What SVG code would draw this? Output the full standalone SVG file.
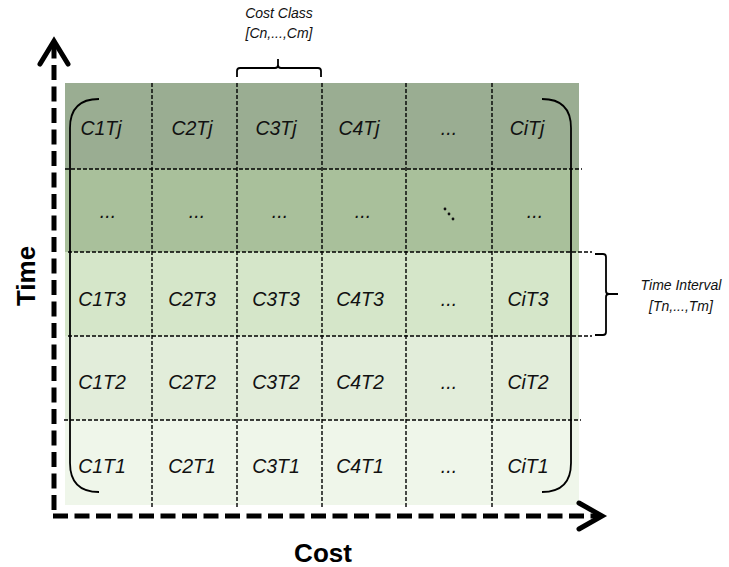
<svg xmlns="http://www.w3.org/2000/svg" width="729" height="567" viewBox="0 0 729 567">
<style>
.cell{font-family:"Liberation Sans",Arial,sans-serif;font-style:italic;font-size:19.5px;fill:#111;text-anchor:middle}
.note{font-family:"Liberation Sans",Arial,sans-serif;font-style:italic;font-size:14px;fill:#111;text-anchor:middle}
.axis-label{font-family:"Liberation Sans",Arial,sans-serif;font-weight:bold;font-size:26px;fill:#000;text-anchor:middle}
.grid{stroke:#000;stroke-width:1.4;stroke-dasharray:4 2;fill:none}
.axis{stroke:#000;stroke-width:5;stroke-dasharray:15 6.5;fill:none}
.head{stroke:#000;stroke-width:5;fill:none;stroke-linecap:round;stroke-linejoin:miter}
.bracket{stroke:#000;stroke-width:1.8;fill:none}
</style>
<g id="background">
<rect x="65" y="83" width="514" height="86" fill="#9aad92"/>
<rect x="65" y="169" width="514" height="83" fill="#a9c09b"/>
<rect x="65" y="252" width="514" height="84" fill="#d5e6c9"/>
<rect x="65" y="336" width="514" height="84" fill="#e2edda"/>
<rect x="65" y="420" width="514" height="85" fill="#eff6ea"/>
</g>
<g id="grid">
<line class="grid" x1="65" y1="169" x2="582" y2="169"/>
<line class="grid" x1="68" y1="252" x2="592" y2="252"/>
<line class="grid" x1="68" y1="336" x2="592" y2="336"/>
<line class="grid" x1="64" y1="420" x2="581" y2="420"/>
<line class="grid" x1="152" y1="83" x2="152" y2="508"/>
<line class="grid" x1="237" y1="83" x2="237" y2="508"/>
<line class="grid" x1="322" y1="83" x2="322" y2="508"/>
<line class="grid" x1="406" y1="83" x2="406" y2="508"/>
<line class="grid" x1="492" y1="83" x2="492" y2="508"/>
</g>
<g id="matrix-brackets">
<path class="bracket" d="M99,99 Q70,99 70,128 L70,463 Q70,492 99,492"/>
<path class="bracket" d="M542,99 Q571,99 571,128 L571,463 Q571,492 542,492"/>
</g>
<g id="cells">
<text class="cell" x="101" y="135">C1Tj</text>
<text class="cell" x="192" y="135">C2Tj</text>
<text class="cell" x="276" y="135">C3Tj</text>
<text class="cell" x="359" y="135">C4Tj</text>
<text class="cell" x="449" y="135">...</text>
<text class="cell" x="527" y="135">CiTj</text>
<text class="cell" x="108" y="218">...</text>
<text class="cell" x="197" y="218">...</text>
<text class="cell" x="280" y="218">...</text>
<text class="cell" x="363" y="218">...</text>
<g id="diag-dots" fill="#111"><circle cx="445" cy="209" r="1.4"/><circle cx="449" cy="214" r="1.4"/><circle cx="453" cy="219" r="1.4"/></g>
<text class="cell" x="535" y="218">...</text>
<text class="cell" x="102" y="306">C1T3</text>
<text class="cell" x="192" y="306">C2T3</text>
<text class="cell" x="276" y="306">C3T3</text>
<text class="cell" x="360" y="306">C4T3</text>
<text class="cell" x="449" y="306">...</text>
<text class="cell" x="528" y="306">CiT3</text>
<text class="cell" x="102" y="389">C1T2</text>
<text class="cell" x="192" y="389">C2T2</text>
<text class="cell" x="276" y="389">C3T2</text>
<text class="cell" x="360" y="389">C4T2</text>
<text class="cell" x="449" y="389">...</text>
<text class="cell" x="528" y="389">CiT2</text>
<text class="cell" x="102" y="473">C1T1</text>
<text class="cell" x="192" y="473">C2T1</text>
<text class="cell" x="276" y="473">C3T1</text>
<text class="cell" x="360" y="473">C4T1</text>
<text class="cell" x="449" y="473">...</text>
<text class="cell" x="528" y="473">CiT1</text>
</g>
<g id="cost-class">
<path class="bracket" d="M237,77 L237,71 Q237,68 240,68 L275,68 Q278,68 278,65 L278,59 M278,65 Q278,68 281,68 L318,68 Q321,68 321,71 L321,77"/>
<text class="note" x="279" y="18">Cost Class</text>
<text class="note" x="279" y="38">[Cn,...,Cm]</text>
</g>
<g id="time-interval">
<path class="bracket" d="M595,254 L603,254 Q606,254 606,257 L606,291 Q606,294 609,294 L618,294 M609,294 Q606,294 606,297 L606,332 Q606,335 603,335 L595,335"/>
<text class="note" x="681" y="290">Time Interval</text>
<text class="note" x="681" y="311">[Tn,...,Tm]</text>
</g>
<g id="connectors">
<line class="axis" x1="54" y1="510" x2="54" y2="44"/>
<polyline class="head" points="40,64 54,41 68,64"/>
<line class="axis" x1="53" y1="516" x2="600" y2="516"/>
<polyline class="head" points="579,503 602,516 579,529"/>
</g>
<g id="labels">
<text class="axis-label" transform="translate(35,276) rotate(-90)">Time</text>
<text class="axis-label" x="323" y="562">Cost</text>
</g>
</svg>
